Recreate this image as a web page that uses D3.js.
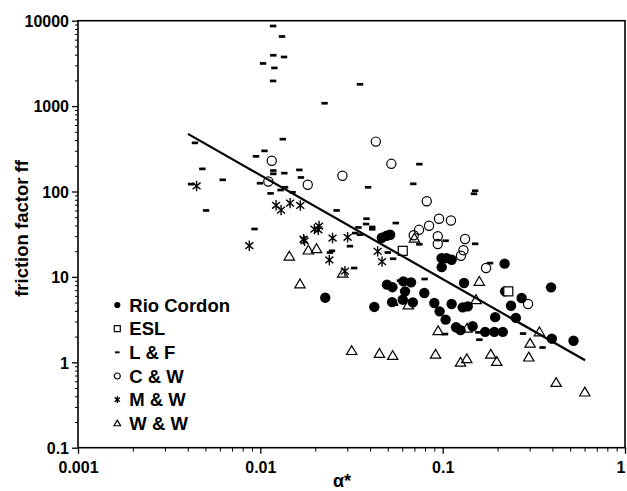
<!DOCTYPE html>
<html><head><meta charset="utf-8">
<script src="https://cdn.jsdelivr.net/npm/d3@7"></script>
<style>
body{margin:0;background:#fff}
svg{display:block}
text{font-family:"Liberation Sans",Arial,Helvetica,sans-serif;font-weight:bold;fill:#000}
</style>
</head><body>
<svg id="chart" width="627" height="491"></svg>
<script>
// ---- data: [q*, ff] pairs ----
const rioCordon = [[0.0227,5.71],[0.0422,4.45],[0.0464,28.7],[0.0493,30.3],[0.0515,31.2],[0.0495,8.11],[0.053,7.58],[0.0528,5.06],[0.0609,8.86],[0.0671,8.63],[0.0622,6.77],[0.0604,5.41],[0.0686,5.03],[0.0793,6.48],[0.090,4.95],[0.0962,3.95],[0.1038,3.16],[0.112,4.82],[0.1184,2.57],[0.1253,2.38],[0.1288,4.40],[0.1373,4.52],[0.131,8.49],[0.146,2.64],[0.171,2.27],[0.192,2.27],[0.2137,2.27],[0.194,3.38],[0.22,6.77],[0.237,4.60],[0.252,3.31],[0.271,5.66],[0.2186,14.3],[0.0986,16.6],[0.105,16.6],[0.112,15.9],[0.0988,13.0],[0.393,7.54],[0.397,1.89],[0.522,1.79]];
const esl = [[0.0604,20.2],[0.229,6.77]];
const lAndF = [[0.01175,8670],[0.01315,6530],[0.01178,3940],[0.01349,3760],[0.01035,3160],[0.01194,2800],[0.01175,1970],[0.0352,1800],[0.0225,1080],[0.01327,410],[0.00438,371],[0.01054,299],[0.00947,258],[0.00481,184],[0.00622,137],[0.00417,122],[0.00504,60],[0.00995,125],[0.01178,176],[0.01178,161],[0.01354,164],[0.01637,179],[0.0167,146],[0.01291,104],[0.01366,112],[0.01502,98],[0.01138,95],[0.00929,36.4],[0.039,112],[0.0745,209],[0.069,123],[0.1507,102],[0.1485,94],[0.0262,60],[0.0382,48],[0.038,41.6],[0.0411,38.4],[0.0411,36.1],[0.0345,37.9],[0.0331,32.6],[0.0352,31.2],[0.0553,42.7],[0.031,22.9],[0.0247,20.2],[0.0241,19.3],[0.05,19.3],[0.0535,16.3],[0.0327,12.7],[0.0745,24.1],[0.1038,26.5],[0.1507,24.4],[0.182,14.5],[0.0583,9.03],[0.0796,9.45],[0.0548,4.73],[0.103,2.14],[0.157,2.24],[0.159,1.84],[0.276,2.17],[0.353,1.49]];
const cAndW = [[0.01155,229],[0.01106,131],[0.0182,120],[0.043,384],[0.0523,211],[0.0282,153],[0.0818,76.8],[0.0955,48],[0.111,45.8],[0.0842,39.7],[0.0742,35.6],[0.0694,30.7],[0.094,29.9],[0.094,24.3],[0.1327,27.8],[0.13,20.5],[0.126,17.7],[0.173,12.7],[0.294,4.82]];
const mAndW = [[0.00447,116],[0.0087,23.2],[0.0122,69],[0.01299,60.6],[0.01456,73.1],[0.01657,68.6],[0.01726,27.6],[0.01748,26.5],[0.0198,36.3],[0.0208,35.6],[0.021,39.4],[0.0249,28.5],[0.0301,29.1],[0.0239,15.8],[0.0291,11.7],[0.044,19.9],[0.0465,15.1]];
const wAndW = [[0.01442,17.5],[0.01834,20.6],[0.02034,21.4],[0.0165,8.26],[0.0283,11.05],[0.0317,1.37],[0.045,1.27],[0.0532,1.20],[0.0648,4.69],[0.07,28.4],[0.0914,1.24],[0.0944,2.34],[0.1253,1.0],[0.1356,1.10],[0.136,2.50],[0.1525,5.41],[0.1588,8.86],[0.1836,1.24],[0.198,1.02],[0.2967,1.15],[0.3016,1.67],[0.3393,2.27],[0.419,0.579],[0.602,0.448]];
const fitLine = [[0.00401,473],[0.604,1.055]];
const xTickValues = [0.001,0.01,0.1,1];
const xTickLabels = ["0.001","0.01","0.1","1"];
const yTickValues = [0.1,1,10,100,1000,10000];
const yTickLabels = ["0.1","1","10","100","1000","10000"];
const seriesNames = ["Rio Cordon","ESL","L & F","C & W","M & W","W & W"];

const svg = d3.select("#chart");
const L=78, R=625, T=20.7, B=447.7;
const x = d3.scaleLog().domain([0.001,1]).range([L,R]);
const y = d3.scaleLog().domain([0.1,10000]).range([B,T]);

function minors(lo, hi){ const out=[]; for(let p=lo;p<hi;p++){ for(let k=2;k<=9;k++) out.push(k*Math.pow(10,p)); } return out; }

// minor ticks
svg.append("g").attr("transform",`translate(${L},0)`)
  .call(d3.axisLeft(y).tickValues(minors(-1,4)).tickSize(3).tickFormat(""))
  .call(g=>g.select(".domain").remove()).selectAll("line").attr("stroke","#000").attr("stroke-width",1);
svg.append("g").attr("transform",`translate(0,${B})`)
  .call(d3.axisBottom(x).tickValues(minors(-3,0)).tickSize(4).tickFormat(""))
  .call(g=>g.select(".domain").remove()).selectAll("line").attr("stroke","#000").attr("stroke-width",1);
// major ticks
const ya = svg.append("g").attr("transform",`translate(${L},0)`)
  .call(d3.axisLeft(y).tickValues(yTickValues).tickSize(6).tickPadding(3).tickFormat((d,i)=>yTickLabels[i]));
ya.select(".domain").remove();
ya.selectAll("line").attr("stroke","#000").attr("stroke-width",1.3);
ya.selectAll("text").attr("font-size",16).attr("font-family",null).attr("dy","0.36em");
const xa = svg.append("g").attr("transform",`translate(0,${B})`)
  .call(d3.axisBottom(x).tickValues(xTickValues).tickSize(6).tickPadding(3).tickFormat((d,i)=>xTickLabels[i]));
xa.select(".domain").remove();
xa.selectAll("line").attr("stroke","#000").attr("stroke-width",1.3);
xa.selectAll("text").attr("font-size",16).attr("font-family",null).attr("y",25.5).attr("dy",0)
  .filter(d=>d===1).attr("text-anchor","end").attr("dx",0);

// frame
svg.append("rect").attr("x",L).attr("y",T).attr("width",R-L).attr("height",B-T)
  .attr("fill","none").attr("stroke","#000").attr("stroke-width",1.6);

// marker drawers
const markers = {
  rio:(g,s)=>g.append("circle").attr("r",s).attr("fill","#000"),
  esl:(g,s)=>g.append("rect").attr("x",-s).attr("y",-s).attr("width",2*s).attr("height",2*s).attr("fill","#fff").attr("stroke","#000").attr("stroke-width",1.2),
  lf:(g,s)=>g.append("rect").attr("x",-s).attr("y",-s*0.42).attr("width",2*s).attr("height",s*0.84).attr("fill","#000"),
  cw:(g,s)=>g.append("circle").attr("r",s).attr("fill","none").attr("stroke","#000").attr("stroke-width",1.2),
  mw:(g,s)=>{ const a=[90,40,140].map(d=>d*Math.PI/180);
    g.append("path").attr("d",a.map(t=>`M${-s*Math.cos(t)},${-s*Math.sin(t)}L${s*Math.cos(t)},${s*Math.sin(t)}`).join(""))
     .attr("stroke","#000").attr("stroke-width",1.4).attr("fill","none"); },
  ww:(g,s)=>g.append("path").attr("d",`M0,${-s*0.95}L${s},${s*0.75}L${-s},${s*0.75}Z`).attr("fill","none").attr("stroke","#000").attr("stroke-width",1.2)
};
function plotSeries(data, key, size){
  const g = svg.append("g");
  data.forEach(d=>{ const m=g.append("g").attr("transform",`translate(${x(d[0])},${y(d[1])})`); markers[key](m,size); });
}
plotSeries(rioCordon,"rio",5.2);
plotSeries(esl,"esl",4.5);
plotSeries(lAndF,"lf",3.2);
plotSeries(cAndW,"cw",4.6);
plotSeries(mAndW,"mw",5.2);
plotSeries(wAndW,"ww",5.2);

// fit line
svg.append("path").datum(fitLine)
  .attr("d",d3.line().x(d=>x(d[0])).y(d=>y(d[1])))
  .attr("stroke","#000").attr("stroke-width",2.2).attr("fill","none");

// legend
const legKeys=["rio","esl","lf","cw","mw","ww"], legSizes=[3.1,3,2.3,3,3.4,3.3];
const leg = svg.append("g");
seriesNames.forEach((n,i)=>{
  const cy = 305 + i*23.66;
  const m = leg.append("g").attr("transform",`translate(117.3,${cy})`);
  markers[legKeys[i]](m,legSizes[i]);
  leg.append("text").attr("x",129.3).attr("y",cy).attr("dy","0.36em").attr("font-size",18.5).text(n);
});

// axis titles
svg.append("text").attr("x",333).attr("y",487).attr("font-size",18).text("α*");
svg.append("text").attr("transform","translate(28,228.5) rotate(-90)").attr("text-anchor","middle").attr("font-size",18.5).text("friction factor ff");
</script>
</body></html>
